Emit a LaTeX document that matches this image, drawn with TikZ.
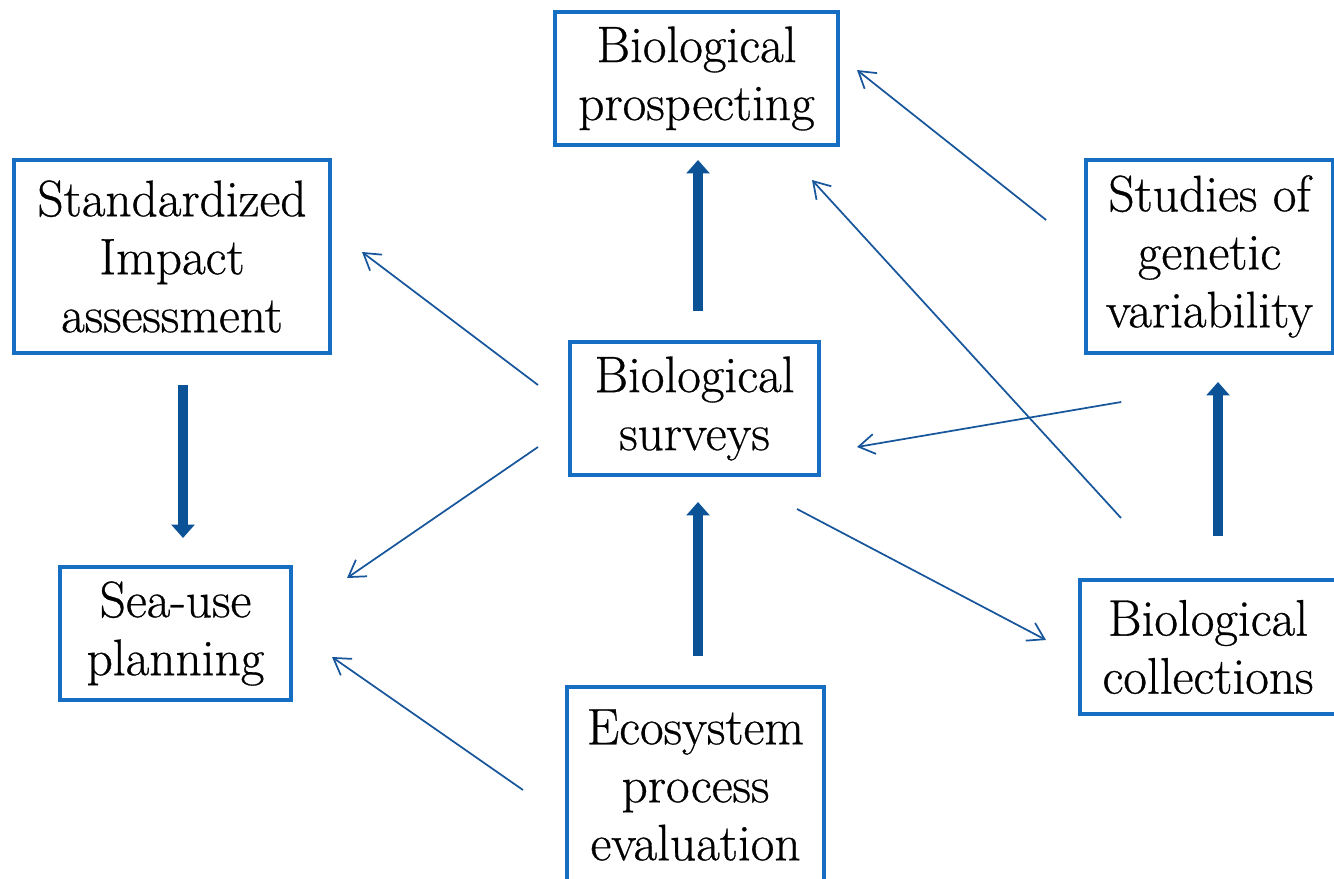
\documentclass[tikz,border=0pt]{standalone}
\usepackage{fontspec}
\setmainfont{Latin Modern Roman}[FakeBold=0.6]
\usepackage{tikz}
\usetikzlibrary{arrows.meta}
\definecolor{boxblue}{RGB}{22,110,195}
\definecolor{fatblue}{RGB}{11,82,150}
\definecolor{linkblue}{RGB}{24,86,156}
\tikzstyle{every node}=[font=\fontsize{38.5}{43.5}\selectfont, align=center, inner sep=0pt]
\tikzstyle{box}=[draw=boxblue, line width=3pt, fill=white]
\tikzstyle{fat}=[draw=fatblue, line width=7.5pt, -{Triangle[width=17pt,length=10pt]}]
\tikzstyle{link}=[draw=linkblue, line width=1.3pt, -{Straight Barb[length=12pt,width=15pt]}]

\begin{document}
\begin{tikzpicture}[x=0.75pt, y=-0.75pt]
    \useasboundingbox (0,0) rectangle (1334,878);
% Boxes
    \node[box, minimum width=212.25pt, minimum height=99.75pt] (prosp) at (696.5,78.5) {Biological\\prospecting};
    \node[box, minimum width=237pt, minimum height=144.75pt] (stand) at (172,256.5) {Standardized\\Impact\\assessment};
    \node[box, minimum width=185pt, minimum height=144.75pt] (gen) at (1209.5,256.5) {Studies of\\genetic\\variability};
    \node[box, minimum width=186.75pt, minimum height=99.75pt] (surv) at (694.5,408.5) {Biological\\surveys};
    \node[box, minimum width=173.25pt, minimum height=99.75pt] (sea) at (175.5,633.5) {Sea-use\\planning};
    \node[box, minimum width=192pt, minimum height=100.5pt] (coll) at (1208,647) {Biological\\collections};
    \node[box, minimum width=192.75pt, minimum height=147pt] (eco) at (695.5,785) {Ecosystem\\process\\evaluation};
% Thick arrows
    \draw[fat] ([shift={(3.5,-29)}]surv.north) -- ([shift={(1.5,13)}]prosp.south);
    \draw[fat] ([shift={(11,30)}]stand.south) -- ([shift={(7.5,-27)}]sea.north);
    \draw[fat] ([shift={(2.5,-29)}]eco.north) -- ([shift={(3.5,25)}]surv.south);
    \draw[fat] ([shift={(10,-42)}]coll.north) -- ([shift={(8.5,27)}]gen.south);
% Thin arrows
    \draw[link] ([shift={(-38,-36.5)}]gen.west) -- ([shift={(17,-8.5)}]prosp.east);
    \draw[link] ([shift={(43,-60)}]coll.north west) -- ([shift={(-28,33)}]prosp.south east);
    \draw[link] ([shift={(37,47)}]gen.south west) -- ([shift={(36,38.5)}]surv.east);
    \draw[link] ([shift={(-30,-23.5)}]surv.west) -- ([shift={(30,-4.5)}]stand.east);
    \draw[link] ([shift={(-30,38.5)}]surv.west) -- ([shift={(54,13)}]sea.north east);
    \draw[link] ([shift={(-24,32)}]surv.south east) -- ([shift={(-32,-7)}]coll.west);
    \draw[link] ([shift={(-42,5)}]eco.west) -- ([shift={(39,23.5)}]sea.east);
\end{tikzpicture}
\end{document}
